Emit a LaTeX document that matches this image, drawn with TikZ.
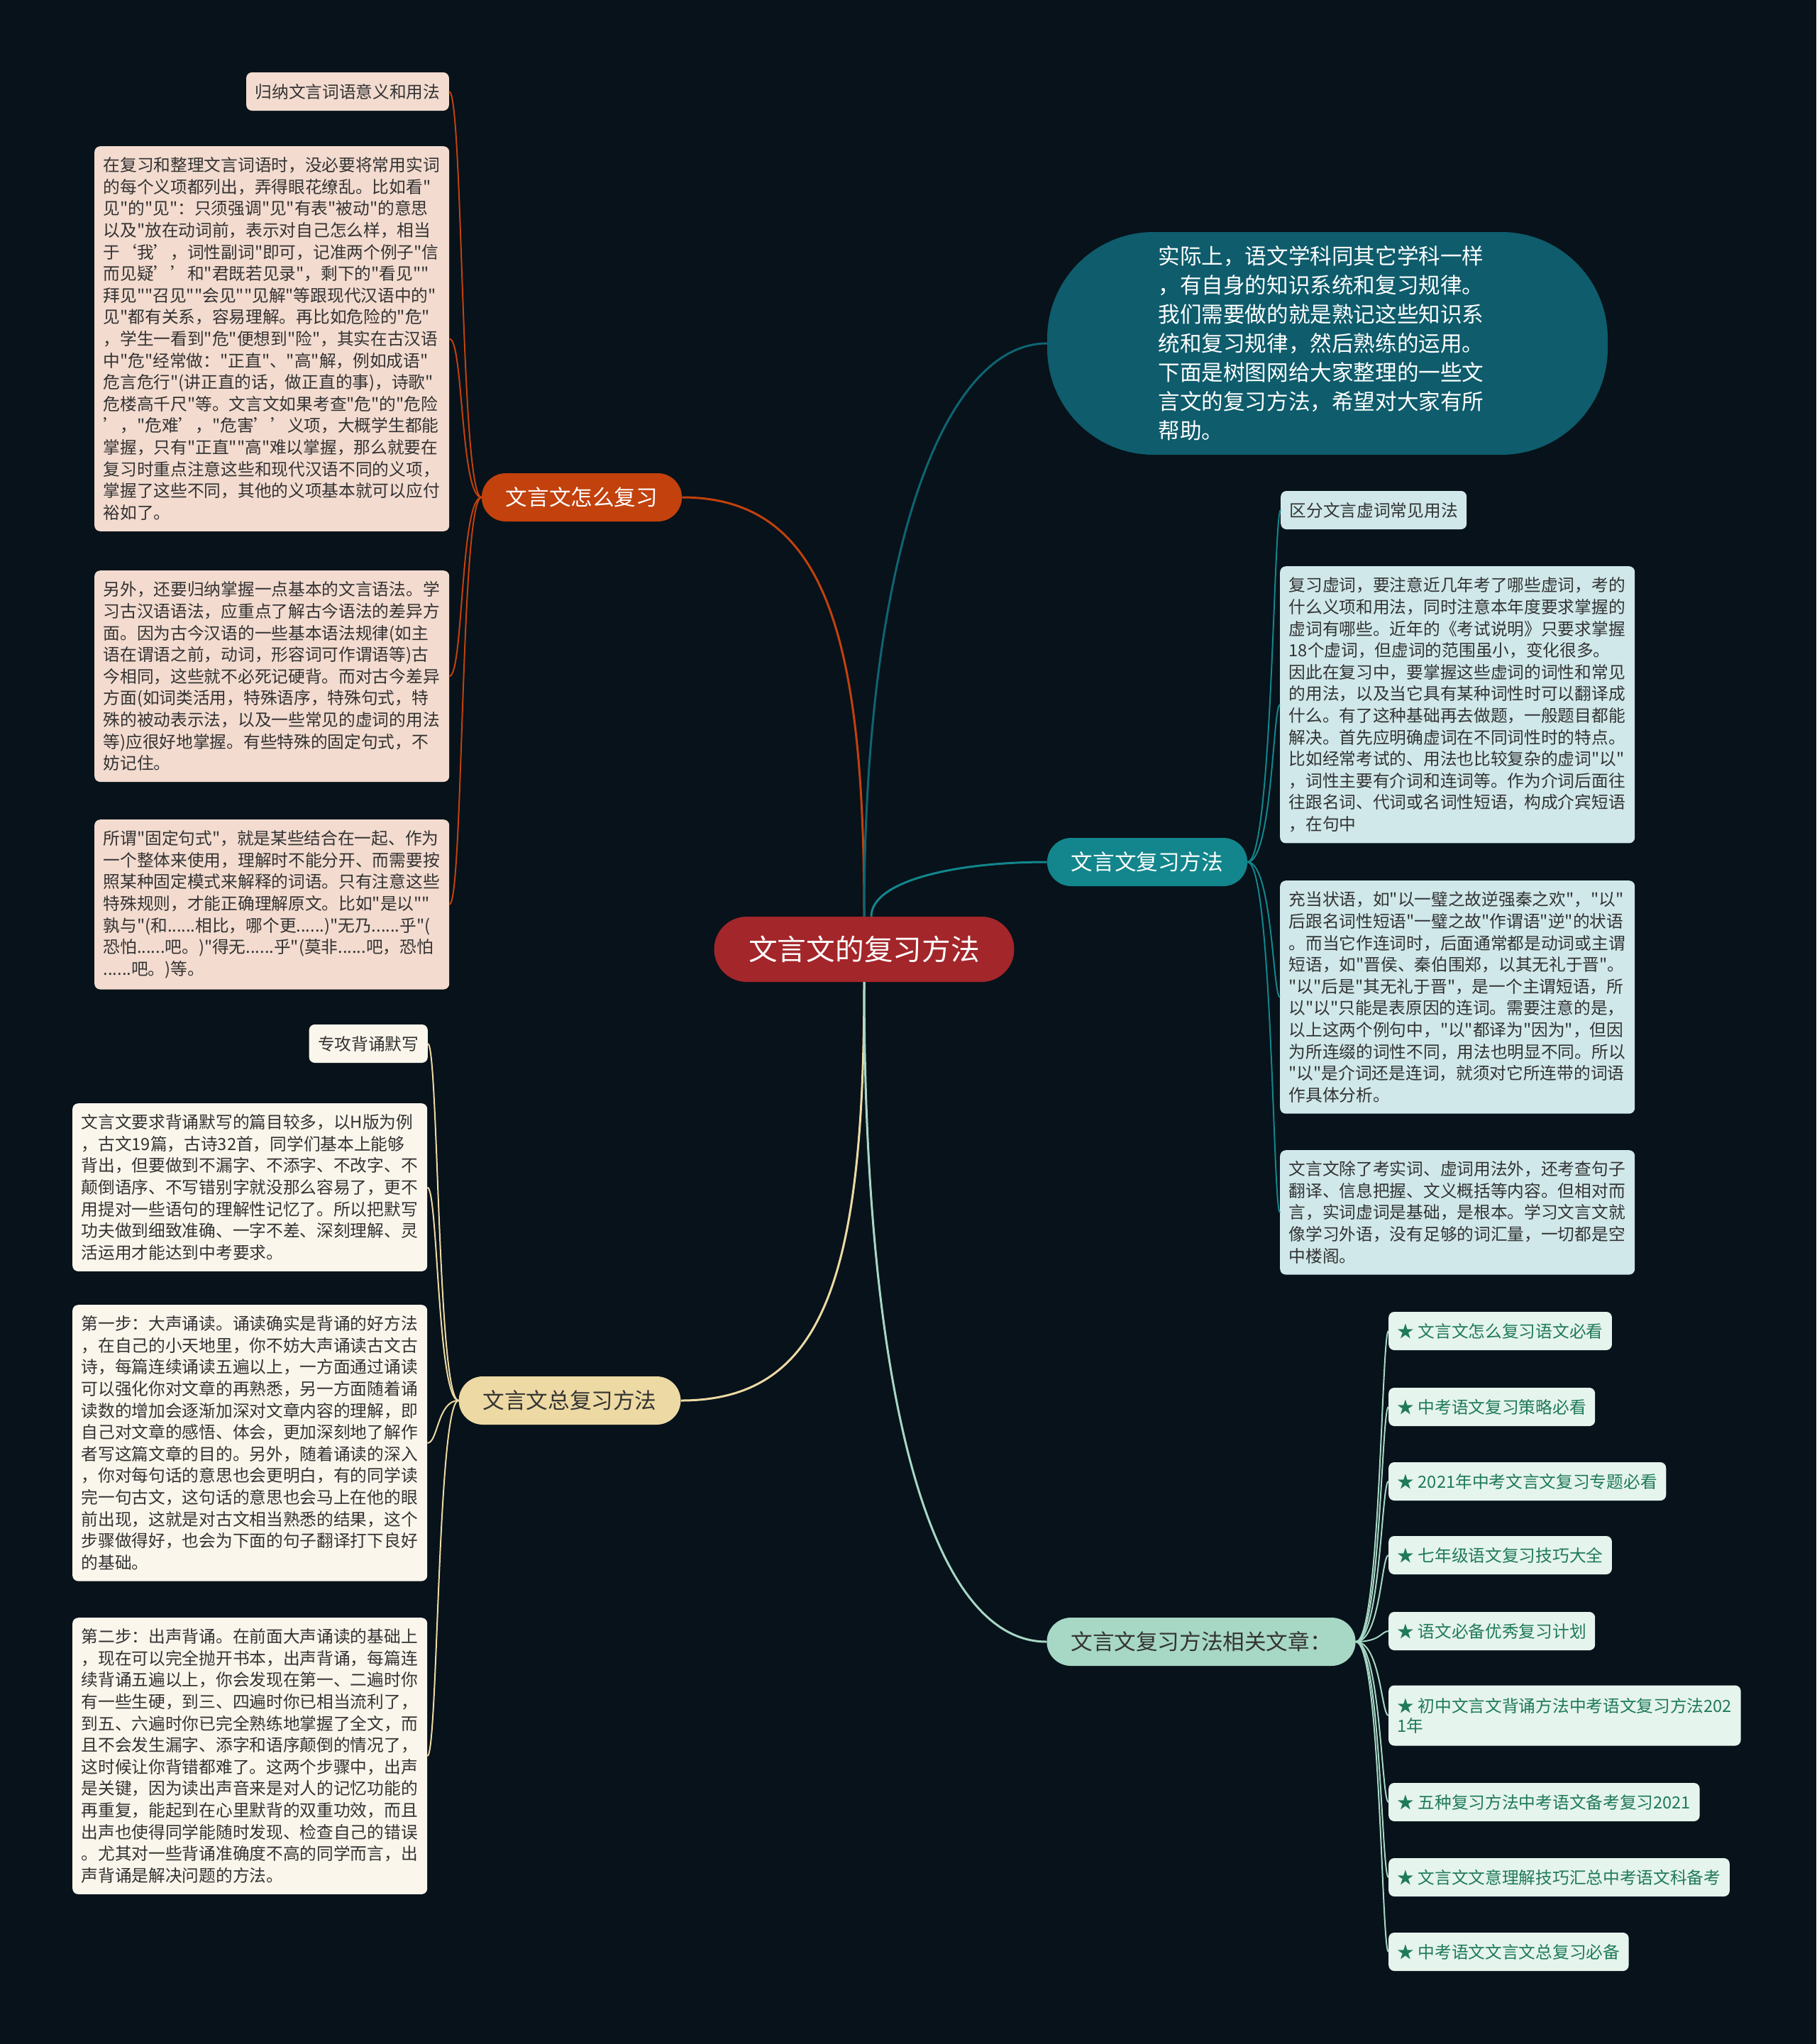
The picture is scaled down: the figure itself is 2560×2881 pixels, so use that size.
\documentclass[tikz,border=0pt]{standalone}
\usepackage{fontspec}
\setmainfont{Noto Sans CJK SC}[Ligatures=TeXOff]
\usepackage{xcolor}
\usepackage{tikz}
\usetikzlibrary{positioning, arrows.meta}

\definecolor{bgc}{HTML}{07121A}
\definecolor{rootc}{HTML}{A3262A}
\definecolor{fzc}{HTML}{C2410C}
\definecolor{ffc}{HTML}{12868C}
\definecolor{zfc}{HTML}{EDD9A3}
\definecolor{xgc}{HTML}{A7D7C5}
\definecolor{introc}{HTML}{0E5C6C}
\definecolor{pinkc}{HTML}{F3DBCF}
\definecolor{creamc}{HTML}{FBF6EC}
\definecolor{bluec}{HTML}{D0E8EA}
\definecolor{linkc}{HTML}{E6F4EE}
\definecolor{linkt}{HTML}{1F7A5A}
\definecolor{textc}{HTML}{333333}

\begin{document}
\begin{tikzpicture}[x=1pt,y=-1pt,
    root/.style={fill=rootc, text=white, rounded corners=46, minimum width=423, minimum height=92,
        font=\fontsize{40.7}{48}\selectfont},
    branch/.style={rounded corners=34, minimum height=68, inner xsep=34,
        font=\fontsize{30.6}{36}\selectfont},
    para/.style={anchor=north west, rounded corners=8, text width=475, align=left, inner xsep=12.5,
        inner ysep=15.5, text=textc, font=\fontsize{23.7}{30.6}\selectfont},
    tag/.style={rounded corners=8, inner xsep=12.5, minimum height=54, text=textc,
        font=\fontsize{23.7}{28}\selectfont},
    link/.style={tag, anchor=west, fill=linkc, text=linkt, align=left},
    thick line/.style={line width=3},
    thin line/.style={line width=2}]

    % background and page size
    \fill[bgc] (0,0) rectangle (2560,2881);
    \useasboundingbox (0,0) rectangle (2560,2881);

    % centre and branches
    \node[root] (root) at (1218,1338) {文言文的复习方法};
    \node[branch, fill=fzc, text=white] (fz) at (820,701) {文言文怎么复习};
    \node[branch, fill=ffc, text=white] (ff) at (1617,1215) {文言文复习方法};
    \node[branch, fill=zfc, text=textc] (zf) at (803,1974) {文言文总复习方法};
    \node[branch, fill=xgc, text=textc] (xg) at (1693,2314) {文言文复习方法相关文章：};

    \node[fill=introc, text=white, rounded corners=150, minimum width=790, minimum height=314,
        text width=459, align=left, font=\fontsize{30.6}{41}\selectfont] (intro) at (1871,484)
        {\hspace*{-9pt}实际上，语文学科同其它学科一样\\\hspace*{-9pt}，有自身的知识系统和复习规律。\\\hspace*{-9pt}我们需要做的就是熟记这些知识系\\\hspace*{-9pt}统和复习规律，然后熟练的运用。\\\hspace*{-9pt}下面是树图网给大家整理的一些文\\\hspace*{-9pt}言文的复习方法，希望对大家有所\\\hspace*{-9pt}帮助。};

    % 文言文怎么复习
    \node[tag, fill=pinkc, anchor=east] (fz1) at (633,129) {归纳文言词语意义和用法};
    \node[para, fill=pinkc] (fz2) at (133,206)
        {在复习和整理文言词语时，没必要将常用实词\\的每个义项都列出，弄得眼花缭乱。比如看"\\见"的"见"：只须强调"见"有表"被动"的意思\\以及"放在动词前，表示对自己怎么样，相当\\于‘我’，词性副词"即可，记准两个例子"信\\而见疑’’和"君既若见录"，剩下的"看见""\\拜见""召见""会见""见解"等跟现代汉语中的"\\见"都有关系，容易理解。再比如危险的"危"\\，学生一看到"危"便想到"险"，其实在古汉语\\中"危"经常做："正直"、"高"解，例如成语"\\危言危行"(讲正直的话，做正直的事)，诗歌"\\危楼高千尺"等。文言文如果考查"危"的"危险\\’，"危难’，"危害’’义项，大概学生都能\\掌握，只有"正直""高"难以掌握，那么就要在\\复习时重点注意这些和现代汉语不同的义项，\\掌握了这些不同，其他的义项基本就可以应付\\裕如了。};
    \node[para, fill=pinkc] (fz3) at (133,804)
        {另外，还要归纳掌握一点基本的文言语法。学\\习古汉语语法，应重点了解古今语法的差异方\\面。因为古今汉语的一些基本语法规律(如主\\语在谓语之前，动词，形容词可作谓语等)古\\今相同，这些就不必死记硬背。而对古今差异\\方面(如词类活用，特殊语序，特殊句式，特\\殊的被动表示法，以及一些常见的虚词的用法\\等)应很好地掌握。有些特殊的固定句式，不\\妨记住。};
    \node[para, fill=pinkc] (fz4) at (133,1155)
        {所谓"固定句式"，就是某些结合在一起、作为\\一个整体来使用，理解时不能分开、而需要按\\照某种固定模式来解释的词语。只有注意这些\\特殊规则，才能正确理解原文。比如"是以""\\孰与"(和......相比，哪个更......)"无乃......乎"(\\恐怕......吧。)"得无......乎"(莫非......吧，恐怕\\......吧。)等。};

    % 文言文总复习方法
    \node[tag, fill=creamc, anchor=east] (zf1) at (603,1471) {专攻背诵默写};
    \node[para, fill=creamc] (zf2) at (102,1555)
        {文言文要求背诵默写的篇目较多，以H版为例\\，古文19篇，古诗32首，同学们基本上能够\\背出，但要做到不漏字、不添字、不改字、不\\颠倒语序、不写错别字就没那么容易了，更不\\用提对一些语句的理解性记忆了。所以把默写\\功夫做到细致准确、一字不差、深刻理解、灵\\活运用才能达到中考要求。};
    \node[para, fill=creamc] (zf3) at (102,1839)
        {第一步：大声诵读。诵读确实是背诵的好方法\\，在自己的小天地里，你不妨大声诵读古文古\\诗，每篇连续诵读五遍以上，一方面通过诵读\\可以强化你对文章的再熟悉，另一方面随着诵\\读数的增加会逐渐加深对文章内容的理解，即\\自己对文章的感悟、体会，更加深刻地了解作\\者写这篇文章的目的。另外，随着诵读的深入\\，你对每句话的意思也会更明白，有的同学读\\完一句古文，这句话的意思也会马上在他的眼\\前出现，这就是对古文相当熟悉的结果，这个\\步骤做得好，也会为下面的句子翻译打下良好\\的基础。};
    \node[para, fill=creamc] (zf4) at (102,2280)
        {第二步：出声背诵。在前面大声诵读的基础上\\，现在可以完全抛开书本，出声背诵，每篇连\\续背诵五遍以上，你会发现在第一、二遍时你\\有一些生硬，到三、四遍时你已相当流利了，\\到五、六遍时你已完全熟练地掌握了全文，而\\且不会发生漏字、添字和语序颠倒的情况了，\\这时候让你背错都难了。这两个步骤中，出声\\是关键，因为读出声音来是对人的记忆功能的\\再重复，能起到在心里默背的双重功效，而且\\出声也使得同学能随时发现、检查自己的错误\\。尤其对一些背诵准确度不高的同学而言，出\\声背诵是解决问题的方法。};

    % 文言文复习方法
    \node[tag, fill=bluec, anchor=west] (ff1) at (1805,719) {区分文言虚词常见用法};
    \node[para, fill=bluec] (ff2) at (1804,798)
        {复习虚词，要注意近几年考了哪些虚词，考的\\什么义项和用法，同时注意本年度要求掌握的\\虚词有哪些。近年的《考试说明》只要求掌握\\18个虚词，但虚词的范围虽小，变化很多。\\因此在复习中，要掌握这些虚词的词性和常见\\的用法，以及当它具有某种词性时可以翻译成\\什么。有了这种基础再去做题，一般题目都能\\解决。首先应明确虚词在不同词性时的特点。\\比如经常考试的、用法也比较复杂的虚词"以"\\，词性主要有介词和连词等。作为介词后面往\\往跟名词、代词或名词性短语，构成介宾短语\\，在句中};
    \node[para, fill=bluec] (ff3) at (1804,1241)
        {充当状语，如"以一璧之故逆强秦之欢"，"以"\\后跟名词性短语"一璧之故"作谓语"逆"的状语\\。而当它作连词时，后面通常都是动词或主谓\\短语，如"晋侯、秦伯围郑，以其无礼于晋"。\\"以"后是"其无礼于晋"，是一个主谓短语，所\\以"以"只能是表原因的连词。需要注意的是，\\以上这两个例句中，"以"都译为"因为"，但因\\为所连缀的词性不同，用法也明显不同。所以\\"以"是介词还是连词，就须对它所连带的词语\\作具体分析。};
    \node[para, fill=bluec] (ff4) at (1804,1621)
        {文言文除了考实词、虚词用法外，还考查句子\\翻译、信息把握、文义概括等内容。但相对而\\言，实词虚词是基础，是根本。学习文言文就\\像学习外语，没有足够的词汇量，一切都是空\\中楼阁。};

    % 相关文章
    \node[link] (xg1) at (1957,1876) {★ 文言文怎么复习语文必看};
    \node[link] (xg2) at (1957,1983) {★ 中考语文复习策略必看};
    \node[link] (xg3) at (1957,2088) {★ 2021年中考文言文复习专题必看};
    \node[link] (xg4) at (1957,2192) {★ 七年级语文复习技巧大全};
    \node[link] (xg5) at (1957,2299) {★ 语文必备优秀复习计划};
    \node[link, minimum height=85] (xg6) at (1957,2418) {★ 初中文言文背诵方法中考语文复习方法202\\1年};
    \node[link] (xg7) at (1957,2540) {★ 五种复习方法中考语文备考复习2021};
    \node[link] (xg8) at (1957,2646) {★ 文言文文意理解技巧汇总中考语文科备考};
    \node[link] (xg9) at (1957,2751) {★ 中考语文文言文总复习必备};

    % connectors
    \draw[thick line, fzc] (root.north) .. controls +(0,-400) and +(200,0) .. (fz.east);
    \draw[thick line, introc!80!ffc] (root.north) .. controls +(0,-500) and +(-150,0) .. (intro.west);
    \draw[thick line, ffc] ([xshift=10]root.north) .. controls +(0,-50) and +(-130,0) .. (ff.west);
    \draw[thick line, zfc] (root.south) .. controls +(0,420) and +(200,0) .. (zf.east);
    \draw[thick line, xgc] (root.south) .. controls +(0,560) and +(-170,0) .. (xg.west);

    \foreach \c in {fz1,fz2,fz3,fz4}
        \draw[thin line, fzc] (fz.west) .. controls +(-30,0) and +(20,0) .. (\c.east);
    \foreach \c in {zf1,zf2,zf3,zf4}
        \draw[thin line, zfc] (zf.west) .. controls +(-30,0) and +(15,0) .. (\c.east);
    \foreach \c in {ff1,ff2,ff3,ff4}
        \draw[thin line, ffc] (ff.east) .. controls +(35,0) and +(-10,0) .. (\c.west);
    \foreach \c in {xg1,xg2,xg3,xg4,xg5,xg6,xg7,xg8,xg9}
        \draw[thin line, xgc] (xg.east) .. controls +(35,0) and +(-10,0) .. (\c.west);
\end{tikzpicture}
\end{document}
